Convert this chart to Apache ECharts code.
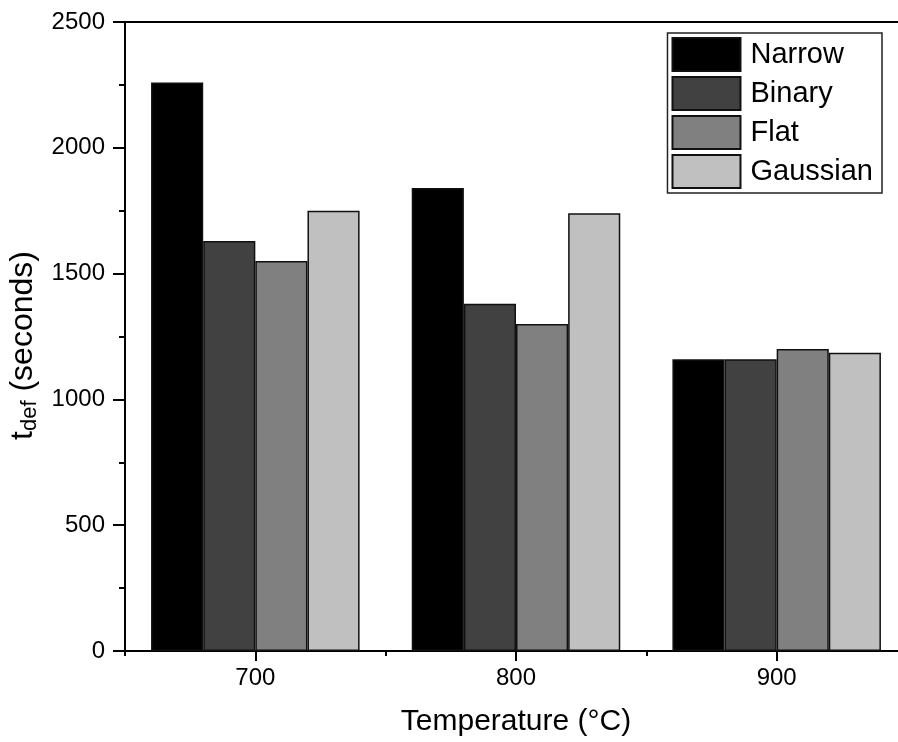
<!DOCTYPE html>
<html lang="en">
<head>
    <meta charset="UTF-8">
    <title>t_def vs temperature</title>
    <script src="https://cdn.jsdelivr.net/npm/echarts@6/dist/echarts.min.js"></script>
    <style>
        html, body { margin: 0; padding: 0; background: #fff; }
    </style>
</head>
<body>
<div class="container" style="width: 898px;height:742px;"></div>
<script>
    // data
    let temps = ['700', '800', '900'];
    let names = ['Narrow', 'Binary', 'Flat', 'Gaussian'];
    let colors = ['#000000', '#414141', '#808080', '#c0c0c0'];
    let narrow = [2260, 1840, 1160];
    let binary = [1630, 1380, 1160];
    let flat = [1550, 1300, 1200];
    let gaussian = [1750, 1740, 1185];
    let values = [narrow, binary, flat, gaussian];

    let container = document.querySelector('.container');
    let mycharts = echarts.init(container);

    let font = 'Liberation Sans, Arial, sans-serif';

    let series = names.map((name, i) => ({
        name: name,
        type: 'bar',
        xAxisIndex: 0,
        data: values[i],
        barGap: '0%',
        barCategoryGap: '20%',
        itemStyle: {
            color: colors[i],
            borderColor: '#111',
            borderWidth: 1.5
        }
    }));

    let option = {
        backgroundColor: '#fff',
        animation: false,
        grid: {
            left: 125,
            top: 22,
            bottom: 91,
            width: 782,
            outerBoundsMode: 'none',
            show: true,
            borderColor: '#000',
            borderWidth: 2,
            backgroundColor: 'transparent'
        },
        legend: {
            data: names,
            orient: 'vertical',
            right: 16,
            top: 33,
            itemWidth: 68,
            itemHeight: 33,
            itemGap: 4,
            padding: [4, 9, 4, 4],
            borderColor: '#222',
            borderWidth: 1.5,
            icon: 'rect',
            textStyle: {
                fontFamily: font,
                fontSize: 29,
                color: '#000',
                padding: [0, 0, 0, 5]
            }
        },
        xAxis: [{
            type: 'category',
            data: temps,
            position: 'bottom',
            name: 'Temperature (°C)',
            nameLocation: 'middle',
            nameGap: 56,
            nameTextStyle: { fontFamily: font, fontSize: 30, color: '#000' },
            axisLine: { show: true, lineStyle: { color: '#000', width: 2 } },
            axisTick: { show: true, alignWithLabel: true, length: 10, lineStyle: { color: '#000', width: 2 } },
            axisLabel: { fontFamily: font, fontSize: 24, color: '#000', margin: 15 },
            splitLine: { show: false }
        }, {
            type: 'value',
            position: 'bottom',
            min: 650,
            max: 950,
            interval: 50,
            axisLine: { show: false },
            axisTick: { show: true, length: 5, lineStyle: { color: '#000', width: 2 } },
            axisLabel: { show: false },
            splitLine: { show: false }
        }],
        yAxis: {
            type: 'value',
            min: 0,
            max: 2500,
            interval: 500,
            name: '{a|t}{b|def}{a| (seconds)}',
            nameLocation: 'middle',
            nameGap: 80,
            nameTextStyle: {
                fontFamily: font,
                color: '#000',
                padding: [0, 18, 0, 0],
                rich: {
                    a: { fontFamily: font, fontSize: 32, color: '#000' },
                    b: { fontFamily: font, fontSize: 22, color: '#000', padding: [13, 0, 0, 0] }
                }
            },
            axisLine: { show: true, lineStyle: { color: '#000', width: 2 } },
            axisTick: { show: true, length: 12, lineStyle: { color: '#000', width: 2 } },
            minorTick: { show: true, splitNumber: 2, length: 6, lineStyle: { color: '#000', width: 2 } },
            axisLabel: {
                fontFamily: font, fontSize: 24, color: '#000', margin: 20,
                formatter: v => String(v)
            },
            splitLine: { show: false }
        },
        series
    };

    mycharts.setOption(option);
</script>
</body>
</html>
